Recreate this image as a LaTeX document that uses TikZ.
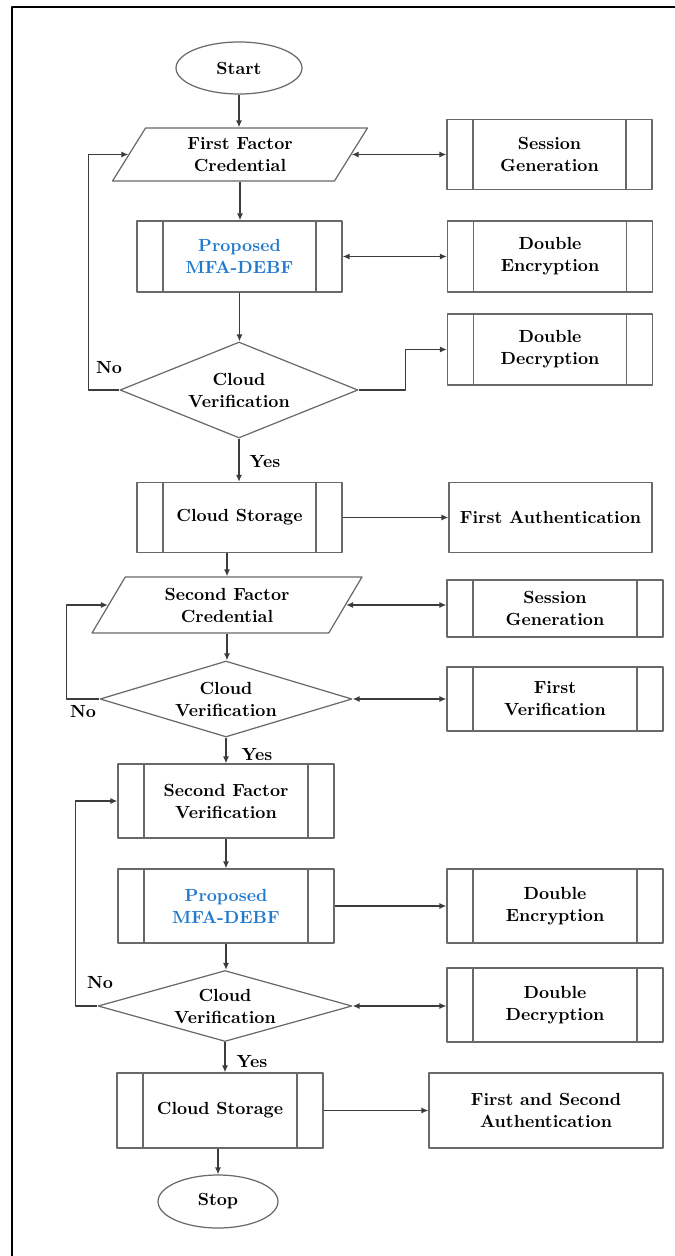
\documentclass[tikz,border=0pt]{standalone}
\usepackage{amsmath,amssymb}
\usepackage{tikz}
\usetikzlibrary{arrows.meta,shapes,shapes.geometric,positioning}
\usetikzlibrary{calc}

\definecolor{shapegray}{RGB}{105,105,105}
\definecolor{linegray}{RGB}{60,60,60}
\definecolor{mfablue}{RGB}{34,122,204}

\def\inset{0.52cm}

\begin{document}
\begin{tikzpicture}[x=0.02cm,y=-0.02cm,line join=round,
    >={Latex[length=4pt,width=3.5pt]},
    font=\bfseries\fontsize{10}{12.5}\selectfont,
    base/.style={draw=shapegray,line width=0.7pt,align=center,inner sep=0pt},
    terminal/.style={base,ellipse},
    io/.style={base,trapezium,trapezium left angle=46,trapezium right angle=134,
        trapezium stretches body},
    decision/.style={base,diamond},
    plain/.style={base,rectangle},
    subproc/.style={base,rectangle,
        path picture={
            \draw[shapegray,line width=0.7pt] ([xshift=\inset]path picture bounding box.north west) -- ([xshift=\inset]path picture bounding box.south west);
            \draw[shapegray,line width=0.7pt] ([xshift=-\inset]path picture bounding box.north east) -- ([xshift=-\inset]path picture bounding box.south east);
        }},
    lbl/.style={inner sep=0pt},
    conn/.style={draw=linegray,line width=0.8pt}]

    \useasboundingbox (0,0) rectangle (675,1256);

    % --- Frame ---
    \draw[line width=1.3pt] (12,1256) -- (12,7) -- (675,7);

    % --- First factor ---
    \node[terminal,minimum width=2.52cm,minimum height=1.04cm] (start) at (239,68) {Start};
    \node[io,minimum width=5.1cm,minimum height=1.06cm] (cred1) at (240,154.5) {First Factor\\Credential};
    \node[subproc,minimum width=4.1cm,minimum height=1.42cm] (mfa1) at (239.5,256.5) {\textcolor{mfablue}{Proposed}\\\textcolor{mfablue}{MFA-DEBF}};
    \node[decision,aspect=2.5,minimum width=4.76cm,minimum height=1.92cm] (ver1) at (239,390) {Cloud\\Verification};
    \node[subproc,minimum width=4.1cm,minimum height=1.4cm] (store1) at (239.5,517.5) {Cloud Storage};

    \node[subproc,minimum width=4.1cm,minimum height=1.4cm] (sess1) at (549.5,154.5) {Session\\Generation};
    \node[subproc,minimum width=4.1cm,minimum height=1.42cm] (enc1) at (550,256.5) {Double\\Encryption};
    \node[subproc,minimum width=4.1cm,minimum height=1.42cm] (dec1) at (550,349.5) {Double\\Decryption};
    \node[plain,minimum width=4.06cm,minimum height=1.4cm] (auth1) at (550.5,517.5) {First Authentication};

    % --- Second factor ---
    \node[io,minimum width=5.4cm,minimum height=1.12cm] (cred2) at (227,605) {Second Factor\\Credential};
    \node[decision,aspect=3.3,minimum width=5.04cm,minimum height=1.52cm] (ver2) at (226,699) {Cloud\\Verification};
    \node[subproc,minimum width=4.32cm,minimum height=1.48cm] (sfv) at (226,801) {Second Factor\\Verification};
    \node[subproc,minimum width=4.32cm,minimum height=1.48cm] (mfa2) at (226,906) {\textcolor{mfablue}{Proposed}\\\textcolor{mfablue}{MFA-DEBF}};
    \node[decision,aspect=3.6,minimum width=5.08cm,minimum height=1.42cm] (ver3) at (225,1006) {Cloud\\Verification};
    \node[subproc,minimum width=4.12cm,minimum height=1.5cm] (store2) at (220,1110.5) {Cloud Storage};
    \node[terminal,minimum width=2.4cm,minimum height=1.06cm] (stop) at (218,1201.5) {Stop};

    \node[subproc,minimum width=4.32cm,minimum height=1.14cm] (sess2) at (555,608.5) {Session\\Generation};
    \node[subproc,minimum width=4.32cm,minimum height=1.28cm] (fver) at (555,699) {First\\Verification};
    \node[subproc,minimum width=4.32cm,minimum height=1.48cm] (enc2) at (555,906) {Double\\Encryption};
    \node[subproc,minimum width=4.32cm,minimum height=1.48cm] (dec2) at (555,1005) {Double\\Decryption};
    \node[plain,minimum width=4.68cm,minimum height=1.5cm] (auth2) at (546,1110.5) {First and Second\\Authentication};

    % --- Labels ---
    \node[lbl] (no1) at (109,368) {No};
    \node[lbl] (yes1) at (265,462) {Yes};
    \node[lbl] (no2) at (83,712) {No};
    \node[lbl] (yes2) at (257,755) {Yes};
    \node[lbl] (no3) at (100,983) {No};
    \node[lbl] (yes3) at (252,1062) {Yes};

    % --- Main flow ---
    \draw[conn,->] (start.south) -- (start.south |- cred1.north);
    \draw[conn,->] (cred1.south) -- (cred1.south |- mfa1.north);
    \draw[conn,->] (mfa1.south) -- (mfa1.south |- ver1.north);
    \draw[conn,->] (ver1.south) -- (ver1.south |- store1.north);
    \draw[conn,->] (store1.south -| cred2.north) -- (cred2.north);
    \draw[conn,->] (cred2.south) -- (cred2.south |- ver2.north);
    \draw[conn,->] (ver2.south) -- (ver2.south |- sfv.north);
    \draw[conn,->] (sfv) -- (mfa2);
    \draw[conn,->] (mfa2.south) -- (mfa2.south |- ver3.north);
    \draw[conn,->] (ver3.south) -- (ver3.south |- store2.north);
    \draw[conn,->] (store2.south -| stop.north) -- (stop.north);

    % No loops
    \draw[conn,->] (ver1.west) -- ++(-31,0) |- (cred1.left side);
    \draw[conn,->] (ver2.west) -- ++(-33,0) |- (cred2.left side);
    \draw[conn,->] (ver3.west) -- ++(-22,0) |- (sfv.west);

    % Side branches
    \draw[conn,<->] (cred1.right side) -- (cred1.right side -| sess1.west);
    \draw[conn,<->] (mfa1.east) -- (mfa1.east -| enc1.west);
    \draw[conn,->] (ver1.east) -- ++(47,0) |- (dec1.west);
    \draw[conn,->] (store1.east) -- (store1.east -| auth1.west);
    \draw[conn,<->] (cred2.right side) -- (cred2.right side -| sess2.west);
    \draw[conn,<->] (ver2.east) -- (ver2.east -| fver.west);
    \draw[conn,->] (mfa2.east) -- (mfa2.east -| enc2.west);
    \draw[conn,<->] (ver3.east) -- (ver3.east -| dec2.west);
    \draw[conn,->] (store2.east) -- (store2.east -| auth2.west);

\end{tikzpicture}
\end{document}
